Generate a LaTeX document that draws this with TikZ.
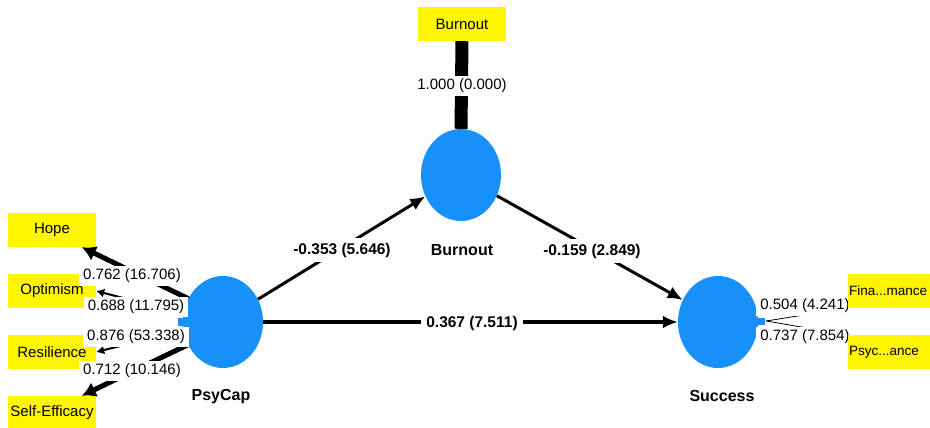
\documentclass[tikz,border=0pt]{standalone}
\usepackage{fontspec}
\setmainfont{Liberation Sans}
\usetikzlibrary{shapes.geometric,arrows.meta}
\definecolor{plsblue}{RGB}{24,144,250}
\definecolor{plsyellow}{RGB}{255,245,0}
\begin{document}
\begin{tikzpicture}[x=1pt,y=-1pt,
  latent/.style={ellipse,fill=plsblue,draw=none,minimum width=80pt,minimum height=92pt,inner sep=0pt},
  indicator/.style={fill=plsyellow,draw=none,minimum width=88pt,minimum height=34pt,inner sep=0pt,font=\fontsize{15}{17}\selectfont},
  indleft/.style={fill=plsyellow,draw=none,text width=80pt,align=left,inner xsep=1pt,inner ysep=0pt,minimum height=34pt,font=\fontsize{13.5}{16}\selectfont},
  lvname/.style={font=\bfseries\fontsize{16}{18}\selectfont},
  pathlbl/.style={fill=white,inner xsep=5pt,inner ysep=5pt,font=\bfseries\fontsize{15.5}{18}\selectfont},
  loadlbl/.style={fill=white,inner xsep=4pt,inner ysep=3pt,font=\fontsize{15}{17}\selectfont},
  patharrow/.style={-{Latex[length=15pt,width=13pt]},line width=3pt},
  thickload/.style={-{Latex[length=14pt,width=16pt]},line width=5pt},
  midload/.style={-{Latex[length=8pt,width=9pt]},line width=2pt},
  thinload/.style={-{Latex[length=5pt,width=5pt]},line width=0.8pt}
]
\useasboundingbox (0,0) rectangle (930,428);
\begin{scope}
\clip (0,0) rectangle (930,428);
% latent variables
\node[latent] (psycap) at (223,322) {};
\node[latent] (burnout) at (461,175) {};
\node[latent] (success) at (718,322) {};
\fill[plsblue] (178,318) rectangle (188,326);
\fill[plsblue] (752,318) rectangle (765,325);
\node[lvname] (psycapname) at (221,397) {PsyCap};
\node[lvname] (burnoutname) at (462,250) {Burnout};
\node[lvname] (successname) at (722,396) {Success};
% indicators
\node[indicator] (bind) at (462,24) {Burnout};
\node[indicator] (hope) at (52,230) {Hope};
\node[indicator] (optimism) at (52,291) {Optimism};
\node[indicator] (resilience) at (52,352) {Resilience};
\node[indicator] (selfeff) at (52,413) {Self-Efficacy};
% outer loadings
\draw[line width=13pt] (burnout.north) -- (bind.south);
\draw[thickload] (psycap.146) -- (hope.-30);
\draw[midload] (psycap.168) -- (optimism.east);
\draw[midload] (psycap.192) -- (resilience.east);
\draw[thickload] (psycap.213) -- (selfeff.30);
% paths
\draw[patharrow] (psycap.33) -- (burnout.211);
\draw[patharrow] (burnout.-30) -- (success.148);
\draw[patharrow,line width=3.5pt] (psycap.east) -- (success.west);
% success indicators
\coordinate (fw) at (848,291);
\coordinate (pw) at (848,352);
\draw[thinload] (success.east) ++(8,-1) coordinate (sfork) -- (fw |- 0,308);
\draw[thinload] (sfork) -- (pw |- 0,335);
% labels
\node[loadlbl] (lb) at (462,86) {1.000 (0.000)};
\node[loadlbl] (l1) at (132,276) {0.762 (16.706)};
\node[loadlbl] (l2) at (136,307) {0.688 (11.795)};
\node[loadlbl] (l3) at (136,337) {0.876 (53.338)};
\node[loadlbl] (l4) at (132,371) {0.712 (10.146)};
\node[loadlbl] (l5) at (805,306) {0.504 (4.241)};
\node[loadlbl] (l6) at (805,337) {0.737 (7.854)};
\node[indleft,anchor=west] (fina) at (fw) {Fina...mance};
\node[indleft,anchor=west] (psyc) at (pw) {Psyc...ance};
\node[pathlbl] (p1) at (342,250) {-0.353 (5.646)};
\node[pathlbl] (p2) at (592,251) {-0.159 (2.849)};
\node[pathlbl] (p3) at (472,323) {0.367 (7.511)};
\end{scope}
\end{tikzpicture}
\end{document}
